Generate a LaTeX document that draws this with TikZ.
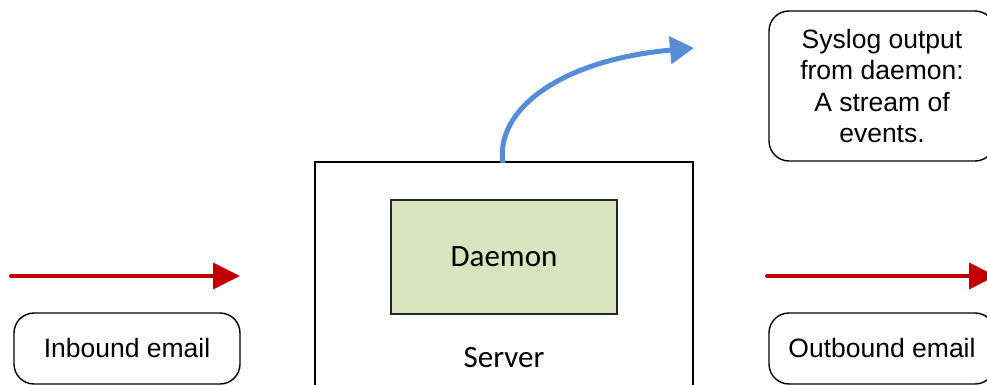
\documentclass[tikz,border=0pt]{standalone}
\usepackage{fontspec}
\setmainfont{Liberation Sans}
\newfontfamily\calibrifont{Carlito}
\usetikzlibrary{arrows.meta}
\definecolor{flowred}{HTML}{C00000}
\definecolor{logblue}{HTML}{558ED5}
\definecolor{daemongreen}{HTML}{D7E4BD}
\tikzset{
  labelbox/.style={draw=black, line width=1.4pt, rounded corners=20pt, align=center,
    font=\fontsize{26.5}{31.5}\selectfont, inner sep=0pt},
  flow/.style={draw=flowred, line width=4pt, line cap=round,
    -{Triangle[length=27pt,width=26pt]}},
  logflow/.style={draw=logblue, line width=5pt,
    -{Triangle[length=24pt,width=27pt]}},
}
\begin{document}
\begin{tikzpicture}[x=1pt,y=-1pt]
\useasboundingbox (0,0) rectangle (987,385);
% server and the daemon running on it
\draw[line width=1.4pt] (315,400) -- (315,162) -- (693,162) -- (693,400);
\node[draw=black!85, line width=1.3pt, fill=daemongreen, minimum width=226pt, minimum height=114pt,
  font=\calibrifont\fontsize{31}{36}\selectfont] (daemon) at (504,257) {Daemon};
\node[font=\calibrifont\fontsize{31}{36}\selectfont] (server) at (504,358) {Server};
\coordinate (srvtop) at (503,163);
\coordinate (logend) at (694,48);
% mail flow
\coordinate (inA) at (11,276);
\coordinate (inB) at (240,276);
\coordinate (outA) at (767,276);
\coordinate (outB) at (996,276);
\draw[flow] (inA) -- (inB);
\draw[flow] (outA) -- (outB);
% label boxes
\node[labelbox, minimum width=226pt, minimum height=71pt] (inbound) at (127,348.5) {Inbound email};
\node[labelbox, minimum width=226pt, minimum height=71pt] (outbound) at (882,348.5) {Outbound email};
\node[labelbox, minimum width=226pt, minimum height=150pt] (syslog) at (882,86)
  {Syslog output\\from daemon:\\A stream of\\events.};
% syslog stream leaving the server
\draw[logflow] (srvtop) .. controls (495,110) and (560,60) .. (logend);
\end{tikzpicture}
\end{document}
